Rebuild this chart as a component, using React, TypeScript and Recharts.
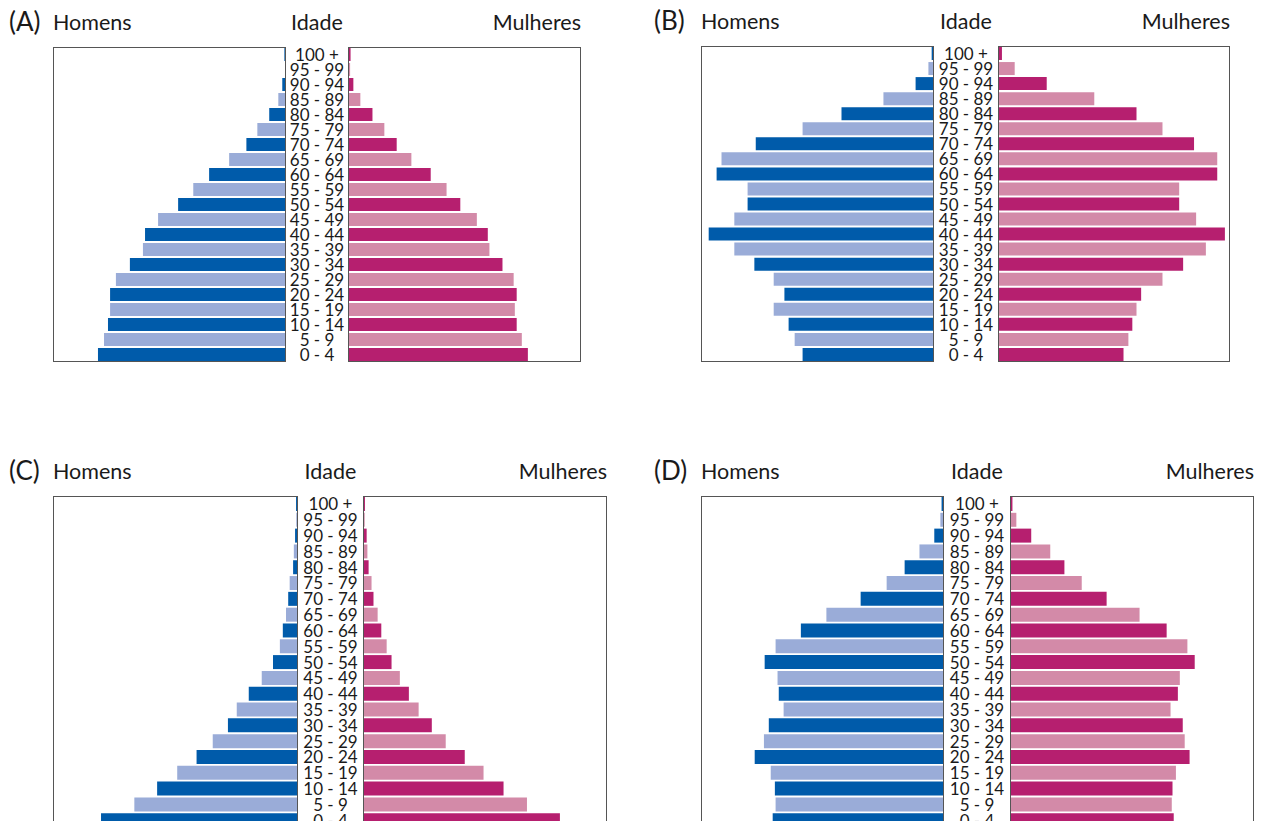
import React from 'react';
import { BarChart, Bar, XAxis, YAxis, Cell } from 'recharts';

// age groups, top row first
const AGES = [
  '100 +', '95 - 99', '90 - 94', '85 - 89', '80 - 84', '75 - 79', '70 - 74',
  '65 - 69', '60 - 64', '55 - 59', '50 - 54', '45 - 49', '40 - 44', '35 - 39',
  '30 - 34', '25 - 29', '20 - 24', '15 - 19', '10 - 14', '5 - 9', '0 - 4',
];

// share of population (%), same order as AGES
const MEN_A = [0.07, 0.04, 0.16, 0.33, 0.72, 1.23, 1.70, 2.44, 3.30, 3.98, 4.63, 5.49, 6.05, 6.14, 6.70, 7.30, 7.55, 7.55, 7.64, 7.81, 8.07];
const WOMEN_A = [0.11, 0.09, 0.23, 0.53, 1.05, 1.56, 2.09, 2.72, 3.55, 4.23, 4.82, 5.53, 6.00, 6.07, 6.63, 7.11, 7.24, 7.16, 7.24, 7.46, 7.72];

const MEN_B = [0.10, 0.24, 0.79, 2.17, 3.97, 5.64, 7.65, 9.12, 9.33, 8.00, 8.00, 8.57, 9.67, 8.57, 7.71, 6.88, 6.42, 6.88, 6.24, 5.98, 5.64];
const WOMEN_B = [0.17, 0.72, 2.10, 4.15, 5.97, 7.09, 8.45, 9.45, 9.45, 7.81, 7.81, 8.54, 9.78, 8.96, 7.98, 7.09, 6.17, 5.97, 5.79, 5.62, 5.41];

const MEN_C = [0.08, 0.07, 0.12, 0.17, 0.20, 0.34, 0.40, 0.49, 0.62, 0.74, 1.02, 1.48, 2.01, 2.50, 2.86, 3.48, 4.14, 4.93, 5.75, 6.68, 8.04];
const WOMEN_C = [0.08, 0.07, 0.15, 0.18, 0.23, 0.35, 0.43, 0.60, 0.75, 0.97, 1.17, 1.51, 1.88, 2.28, 2.82, 3.39, 4.17, 4.94, 5.76, 6.72, 8.07];

const MEN_D = [0.10, 0.15, 0.40, 1.01, 1.62, 2.36, 3.43, 4.84, 5.89, 6.93, 7.38, 6.85, 6.80, 6.60, 7.21, 7.41, 7.79, 7.13, 6.96, 6.93, 7.05];
const WOMEN_D = [0.10, 0.26, 0.87, 1.65, 2.23, 2.94, 3.96, 5.31, 6.42, 7.27, 7.57, 6.96, 6.88, 6.58, 7.08, 7.16, 7.36, 6.80, 6.66, 6.63, 6.71];

const MAX = 10;

const BLUE = '#005baa';
const BLUE_LIGHT = '#9aacd8';
const PINK = '#b61f6f';
const PINK_LIGHT = '#d38aa8';
const FONT = 'Lato, "Open Sans", sans-serif';

const panels = [
  { tag: '(A)', men: MEN_A, women: WOMEN_A, tagX: 9, boxL: 53, top: 47, wL: 233, labelW: 62, wR: 233, h: 315 },
  { tag: '(B)', men: MEN_B, women: WOMEN_B, tagX: 654, boxL: 701, top: 46, wL: 233, labelW: 64, wR: 232, h: 316 },
  { tag: '(C)', men: MEN_C, women: WOMEN_C, tagX: 9, boxL: 53, top: 496, wL: 245, labelW: 65, wR: 244, h: 332 },
  { tag: '(D)', men: MEN_D, women: WOMEN_D, tagX: 654, boxL: 701, top: 496, wL: 243, labelW: 66, wR: 244, h: 332 },
];

function Pyramid({ p }: { p: any }) {
  const rows = AGES.map((age, i) => ({ age, men: p.men[i], women: p.women[i] }));
  const border = { position: 'absolute' as const, top: p.top, height: p.h, border: '1.5px solid #555', boxSizing: 'border-box' as const, pointerEvents: 'none' as const };
  const titleTop = p.top - 38;
  const text = { position: 'absolute' as const, top: titleTop, fontFamily: FONT, fontSize: 21.5, color: '#1a1a1a', lineHeight: '26px', whiteSpace: 'nowrap' as const };
  const rightL = p.boxL + p.wL + p.labelW;

  const ageTick = (props: any) => (
    <text x={p.labelW / 2} y={props.y} textAnchor="middle" dominantBaseline="central"
      fontFamily={FONT} fontSize={17} fill="#1a1a1a">
      {props.payload.value}
    </text>
  );

  return (
    <>
      <div style={{ ...text, left: p.tagX, fontSize: 26, top: titleTop - 3, lineHeight: '30px' }}>{p.tag}</div>
      <div style={{ ...text, left: p.boxL }}>Homens</div>
      <div style={{ ...text, left: p.boxL + p.wL - 10, width: p.labelW + 20, textAlign: 'center' }}>Idade</div>
      <div style={{ ...text, left: rightL + p.wR - 200, width: 200, textAlign: 'right' }}>Mulheres</div>

      <div style={{ position: 'absolute', left: p.boxL, top: p.top }}>
        <BarChart layout="vertical" width={p.wL} height={p.h} data={rows}
          margin={{ top: 0, right: 0, bottom: 0, left: 0 }} barCategoryGap={1}>
          <XAxis type="number" domain={[0, MAX]} reversed hide />
          <YAxis type="category" dataKey="age" hide />
          <Bar dataKey="men" isAnimationActive={false}>
            {rows.map((r, i) => <Cell key={r.age} fill={i % 2 === 0 ? BLUE : BLUE_LIGHT} />)}
          </Bar>
        </BarChart>
      </div>

      <div style={{ position: 'absolute', left: p.boxL + p.wL, top: p.top }}>
        <BarChart layout="vertical" width={p.labelW + p.wR} height={p.h} data={rows}
          margin={{ top: 0, right: 0, bottom: 0, left: 0 }} barCategoryGap={1}
          style={{ overflow: 'visible' }}>
          <XAxis type="number" domain={[0, MAX]} hide />
          <YAxis type="category" dataKey="age" width={p.labelW} axisLine={false} tickLine={false}
            interval={0} tick={ageTick} />
          <Bar dataKey="women" isAnimationActive={false}>
            {rows.map((r, i) => <Cell key={r.age} fill={i % 2 === 0 ? PINK : PINK_LIGHT} />)}
          </Bar>
        </BarChart>
      </div>

      <div style={{ ...border, left: p.boxL, width: p.wL }} />
      <div style={{ ...border, left: rightL, width: p.wR }} />
    </>
  );
}

export default function App() {
  return (
    <div style={{ position: 'absolute', left: 0, top: 0, width: 1270, height: 830, background: '#fff' }}>
      {panels.map((p) => <Pyramid key={p.tag} p={p} />)}
    </div>
  );
}
